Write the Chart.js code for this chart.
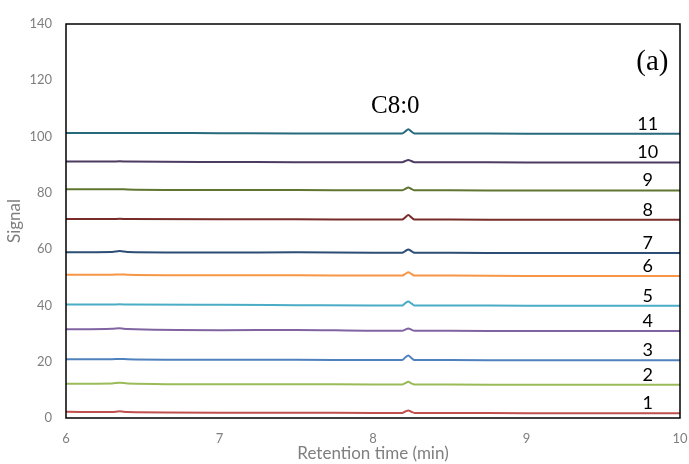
<!DOCTYPE html>
<html>
<head>
<meta charset="utf-8">
<script src="https://cdn.jsdelivr.net/npm/chart.js@4"></script>
<style>
  html, body { margin: 0; padding: 0; background: #fff; }
  #wrap { width: 689px; height: 464px; }
</style>
</head>
<body>
<div id="wrap"><canvas id="chrom"></canvas></div>
<script>
// retention times shared by every trace (min)
const times = [6.0, 6.3, 6.35, 6.4, 7.0, 7.5, 8.0, 8.19, 8.21, 8.23, 8.25, 8.27, 8.5, 9.0, 9.5, 10.0];

const traceNames = ['1', '2', '3', '4', '5', '6', '7', '8', '9', '10', '11'];

const sig1  = [2.2, 2.1, 2.4, 2.1, 1.9, 1.9, 1.8, 1.8, 2.3, 2.7, 2.2, 1.8, 1.8, 1.7, 1.7, 1.7];
const sig2  = [12.2, 12.3, 12.5, 12.3, 12.0, 12.0, 11.9, 11.9, 12.4, 12.9, 12.3, 11.9, 11.9, 11.8, 11.8, 11.8];
const sig3  = [20.9, 20.9, 21.0, 20.9, 20.7, 20.7, 20.6, 20.6, 21.5, 22.2, 21.3, 20.6, 20.6, 20.5, 20.5, 20.5];
const sig4  = [31.5, 31.7, 31.9, 31.6, 31.2, 31.3, 31.0, 31.0, 31.4, 31.8, 31.4, 31.0, 31.0, 30.9, 30.9, 30.9];
const sig5  = [40.3, 40.3, 40.4, 40.3, 40.2, 40.1, 40.0, 40.0, 40.8, 41.4, 40.7, 40.0, 40.0, 39.9, 39.9, 39.9];
const sig6  = [50.9, 50.9, 51.0, 50.9, 50.7, 50.7, 50.6, 50.6, 51.2, 51.8, 51.2, 50.6, 50.6, 50.5, 50.5, 50.5];
const sig7  = [58.9, 59.0, 59.3, 59.0, 58.8, 58.9, 58.7, 58.7, 59.3, 59.9, 59.3, 58.7, 58.7, 58.6, 58.6, 58.6];
const sig8  = [70.7, 70.7, 70.8, 70.7, 70.6, 70.6, 70.5, 70.5, 71.3, 72.1, 71.3, 70.5, 70.5, 70.4, 70.4, 70.4];
const sig9  = [81.3, 81.3, 81.3, 81.2, 81.0, 81.0, 80.9, 80.9, 81.4, 81.9, 81.4, 80.9, 80.9, 80.8, 80.8, 80.8];
const sig10 = [91.1, 91.1, 91.2, 91.1, 91.0, 90.9, 90.9, 90.9, 91.3, 91.7, 91.3, 90.9, 90.9, 90.8, 90.8, 90.8];
const sig11 = [101.3, 101.3, 101.3, 101.3, 101.2, 101.1, 101.1, 101.1, 101.8, 102.6, 101.8, 101.1, 101.1, 101.0, 101.0, 101.0];

const traces = [sig1, sig2, sig3, sig4, sig5, sig6, sig7, sig8, sig9, sig10, sig11];
const traceColors = ['#c0504d', '#9bbb59', '#4f81bd', '#8064a2', '#4bacc6', '#f79646',
                     '#2c4d75', '#772c2a', '#5f7530', '#4d3b62', '#276a7c'];

const peakName = 'C8:0';
const peakTime = 8.23;
const panelTag = '(a)';
const labelTime = 9.79;

const xTicks = [6, 7, 8, 9, 10];
const yTicks = [0, 20, 40, 60, 80, 100, 120, 140];

const axisFont = 'Lato, "Open Sans", sans-serif';

// frame around the plot area + trace numbers + annotations
const decorations = {
  id: 'decorations',
  afterDatasetsDraw(chart) {
    const { ctx, chartArea: a, scales: { x, y } } = chart;
    ctx.save();
    ctx.strokeStyle = '#000';
    ctx.lineWidth = 1.5;
    ctx.strokeRect(a.left, a.top, a.right - a.left, a.bottom - a.top);

    ctx.fillStyle = '#000';
    ctx.textAlign = 'center';
    ctx.textBaseline = 'bottom';
    ctx.font = '18px ' + axisFont;
    traces.forEach((s, i) => {
      ctx.fillText(traceNames[i], x.getPixelForValue(labelTime), y.getPixelForValue(s[s.length - 1]) - 1);
    });

    ctx.font = '25px "Liberation Serif", "DejaVu Serif", serif';
    ctx.textBaseline = 'alphabetic';
    ctx.fillText(peakName, x.getPixelForValue(peakTime) - 13, y.getPixelForValue(108.4));
    ctx.font = '29px "Liberation Serif", "DejaVu Serif", serif';
    ctx.fillText(panelTag, x.getPixelForValue(9.82), y.getPixelForValue(123.5));
    ctx.restore();
  }
};

new Chart(document.getElementById('chrom'), {
  type: 'line',
  data: {
    datasets: traces.map((s, i) => ({
      label: traceNames[i],
      data: times.map((t, j) => ({ x: t, y: s[j] })),
      borderColor: traceColors[i],
      borderWidth: 2,
      pointRadius: 0,
      cubicInterpolationMode: 'monotone',
      fill: false
    }))
  },
  options: {
    responsive: true,
    maintainAspectRatio: false,
    animation: false,
    layout: { padding: { top: 24, right: 0, left: 0, bottom: 0 } },
    plugins: {
      legend: { display: false },
      tooltip: { enabled: false }
    },
    scales: {
      x: {
        type: 'linear',
        min: 6, max: 10,
        afterBuildTicks: (s) => { s.ticks = xTicks.map(v => ({ value: v })); },
        afterFit: (s) => { s.height = 46; s.paddingRight = 9; },
        grid: { display: false, drawTicks: false },
        border: { display: false },
        ticks: { color: '#7f7f7f', font: { family: axisFont, size: 13 }, padding: 13 },
        title: { display: true, text: 'Retention time (min)', color: '#7f7f7f',
                 font: { family: axisFont, size: 17 }, padding: { top: 0, bottom: 0 } }
      },
      y: {
        min: 0, max: 140,
        afterBuildTicks: (s) => { s.ticks = yTicks.map(v => ({ value: v })); },
        afterFit: (s) => { s.width = 66; },
        grid: { display: false, drawTicks: false },
        border: { display: false },
        ticks: { color: '#7f7f7f', font: { family: axisFont, size: 13 }, padding: 14 },
        title: { display: true, text: 'Signal', color: '#7f7f7f',
                 font: { family: axisFont, size: 17 }, padding: { top: 4, bottom: 0 } }
      }
    }
  },
  plugins: [decorations]
});
</script>
</body>
</html>
